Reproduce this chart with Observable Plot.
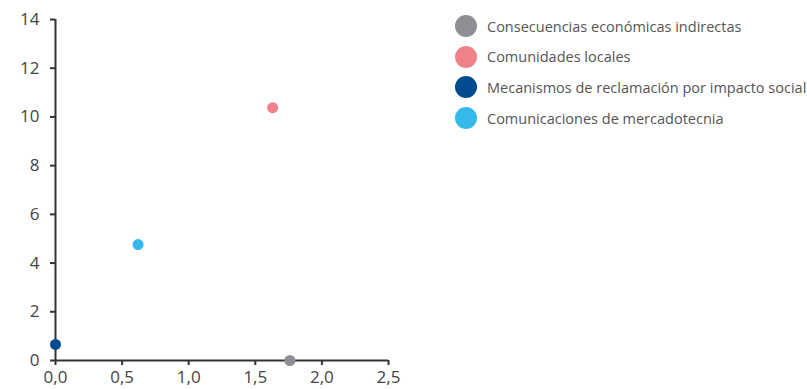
<!DOCTYPE html>
<html>
<head>
<meta charset="utf-8">
<script src="https://cdn.jsdelivr.net/npm/d3@7"></script>
<script src="https://cdn.jsdelivr.net/npm/@observablehq/plot@0.6"></script>
<style>
  body { margin: 0; background: #fff; font-family: "Open Sans", sans-serif; }
  #wrap { position: relative; width: 807px; height: 389px; overflow: hidden; }
  #legend { position: absolute; left: 455px; top: 11px; }
  .item { display: flex; align-items: center; height: 30.6px; font-size: 14.5px; color: #555; white-space: nowrap; }
  .sw { width: 22px; height: 22px; border-radius: 50%; margin-right: 10px; flex: none; }
</style>
</head>
<body>
<div id="wrap"><div id="legend"></div></div>
<script>
const categories = [
  "Consecuencias económicas indirectas",
  "Comunidades locales",
  "Mecanismos de reclamación por impacto social",
  "Comunicaciones de mercadotecnia"
];
const xValues = [1.76, 1.63, 0.0, 0.62];
const yValues = [0.0, 10.38, 0.66, 4.76];
const colors = ["#8e8f94", "#ef8289", "#004a8f", "#35b8ea"];
const xTicks = [0, 0.5, 1, 1.5, 2, 2.5];
const yTicks = [0, 2, 4, 6, 8, 10, 12, 14];

const data = categories.map((c, i) => ({cat: c, x: xValues[i], y: yValues[i]}));
const fmt = v => v.toFixed(1).replace(".", ",");

const chart = Plot.plot({
  width: 807,
  height: 389,
  marginLeft: 55,
  marginRight: 419,
  marginTop: 19,
  marginBottom: 29,
  style: {fontFamily: "Open Sans, sans-serif", color: "#444", background: "transparent"},
  x: {domain: [0, 2.5]},
  y: {domain: [0, 14]},
  color: {domain: categories, range: colors},
  marks: [
    Plot.ruleX([0], {stroke: "#333", strokeWidth: 2}),
    Plot.ruleY([0], {stroke: "#333", strokeWidth: 2}),
    Plot.axisY({ticks: yTicks, tickSize: 5, tickPadding: 11, fontSize: 17, stroke: "#333", strokeWidth: 2, tickFormat: d => String(d), label: null}),
    Plot.axisX({ticks: xTicks, tickSize: 5, tickPadding: 5, fontSize: 17, stroke: "#333", strokeWidth: 2, tickFormat: fmt, label: null}),
    Plot.dot(data, {x: "x", y: "y", fill: "cat", r: 5.5, stroke: null})
  ]
});
document.getElementById("wrap").prepend(chart);

const legend = document.getElementById("legend");
categories.forEach((c, i) => {
  const it = document.createElement("div");
  it.className = "item";
  const sw = document.createElement("span");
  sw.className = "sw";
  sw.style.background = colors[i];
  const t = document.createElement("span");
  t.textContent = c;
  it.appendChild(sw); it.appendChild(t);
  legend.appendChild(it);
});
</script>
</body>
</html>
